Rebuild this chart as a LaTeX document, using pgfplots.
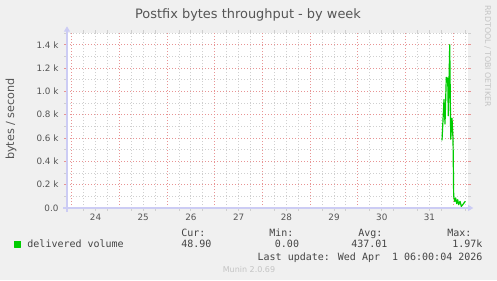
\documentclass[border=0pt]{standalone}
\usepackage{pgfplots}
\pgfplotsset{compat=1.18}
\usepackage{fontspec}
\setmainfont{DejaVu Sans}
\newfontfamily\monofont{DejaVu Sans Mono}
\usetikzlibrary{arrows.meta}
\definecolor{bg}{HTML}{F0F0F0}
\definecolor{gridmaj}{HTML}{E89494}
\definecolor{gridmin}{HTML}{CFCFCF}
\definecolor{axiscol}{HTML}{CCCCF4}
\definecolor{txtcol}{HTML}{555555}
\definecolor{legcol}{HTML}{444444}
\definecolor{lightcol}{HTML}{C4C4C4}
\definecolor{lgreen}{HTML}{00CC00}
\pgfplotstableread{
x y
31.763 580
31.805 930
31.826 720
31.853 1120
31.883 1110
31.895 790
31.925 1400
31.946 590
31.973 770
31.994 590
32.008 100
32.029 57
32.050 86
32.071 37
32.092 71
32.113 28
32.141 57
32.168 14
32.197 28
32.224 43
32.252 57
}\delivered
\begin{document}
\begin{tikzpicture}[x=0.75pt,y=0.75pt]
\fill[bg] (0,0) rectangle (497,280);
\begin{axis}[
  at={(50.25pt,54pt)}, anchor=south west,
  scale only axis, width=300.75pt, height=131.25pt,
  xmin=23.9015, xmax=32.308, ymin=0, ymax=1500,
  axis background/.style={fill=white},
  axis line style={draw=none},
  tick align=outside,
  major tick length=2pt, minor tick length=2pt,
  xtick={24.5,25.5,...,31.5},
  xticklabels={24,25,26,27,28,29,30,31},
  major x tick style={draw=none},
  minor xtick={24.25,24.5,24.75,25.25,25.5,25.75,26.25,26.5,26.75,27.25,27.5,27.75,28.25,28.5,28.75,29.25,29.5,29.75,30.25,30.5,30.75,31.25,31.5,31.75,32.25},
  xminorgrids,
  extra x ticks={24,25,26,27,28,29,30,31,32},
  extra x tick labels={},
  extra x tick style={xmajorgrids=true, major grid style={gridmaj, line width=0.75pt, dash pattern=on 0.75pt off 1.5pt}, major tick style={gridmaj, line width=0.75pt}},
  ytick={0,200,...,1400},
  yticklabels={0.0,0.2 k,0.4 k,0.6 k,0.8 k,1.0 k,1.2 k,1.4 k},
  minor ytick={100,300,...,1500},
  ymajorgrids, yminorgrids,
  major grid style={gridmaj, line width=0.75pt, dash pattern=on 0.75pt off 1.5pt},
  minor grid style={gridmin, line width=0.75pt, dash pattern=on 0.75pt off 1.5pt},
  major y tick style={gridmaj, line width=0.75pt},
  minor tick style={gridmin, line width=0.75pt},
  ticklabel style={font=\fontsize{6.6}{8}\selectfont, text=txtcol, inner sep=0pt},
  xticklabel style={anchor=base, yshift=-7.6pt},
  yticklabel style={anchor=east, xshift=-4.2pt},
  legend style={at={(axis description cs:-0.1322,-0.2074)}, anchor=west, draw=none, fill=none, inner sep=0pt, font=\monofont\fontsize{7.5}{9}\selectfont, text=legcol, nodes={inner sep=0pt}},
  legend cell align=left,
  legend image code/.code={\fill[lgreen] (0pt,-2.25pt) rectangle (4.5pt,2.25pt); \path (9pt,0pt);},
  clip=false,
]
\draw[axiscol, line width=0.8pt, -{Triangle[width=4.5pt,length=4pt]}] ([xshift=-3pt]rel axis cs:0,0) -- ([xshift=4pt]rel axis cs:1,0);
\draw[axiscol, line width=0.8pt, -{Triangle[width=4.5pt,length=4pt]}] ([yshift=-3pt]rel axis cs:0,0) -- ([yshift=5pt]rel axis cs:0,1);
\addplot[lgreen, line width=0.9pt, line join=round] table[x=x,y=y] {\delivered};
\addlegendentry{delivered volume}
\end{axis}
\node[anchor=base, inner sep=0pt, text=txtcol, font=\fontsize{9.7}{11}\selectfont] at (248,261.7) {Postfix bytes throughput - by week};
\node[rotate=90, inner sep=0pt, text=txtcol, font=\fontsize{8.4}{10}\selectfont] at (11,161) {bytes / second};
\node[rotate=-90, inner sep=0pt, text=lightcol, font=\fontsize{5.9}{7}\selectfont] at (487.8,224) {RRDTOOL / TOBI OETIKER};
\begin{scope}[every node/.style={inner sep=0pt, text=legcol, font=\monofont\fontsize{7.5}{9}\selectfont}]
\node[anchor=base west] at (181,44) {Cur:};
\node[anchor=base west] at (269,44) {Min:};
\node[anchor=base west] at (358,44) {Avg:};
\node[anchor=base west] at (447,44) {Max:};
\node[anchor=base west] at (181,32.3) {48.90};
\node[anchor=base east] at (299.3,32.3) {0.00};
\node[anchor=base east] at (387.7,32.3) {437.01};
\node[anchor=base east] at (482.7,32.3) {1.97k};
\node[anchor=base east] at (482.7,20) {Last update: Wed Apr~~1 06:00:04 2026};
\end{scope}
\node[anchor=base, inner sep=0pt, text=lightcol, font=\fontsize{6}{7}\selectfont] at (249,7.3) {Munin 2.0.69};
\end{tikzpicture}
\end{document}
